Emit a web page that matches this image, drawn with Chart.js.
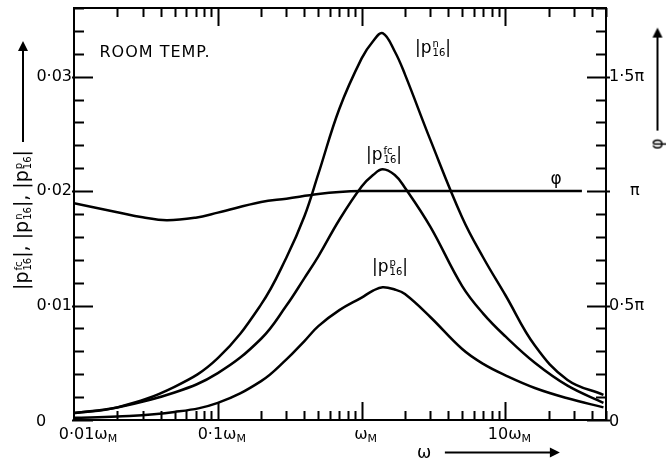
<!DOCTYPE html>
<html>
<head>
<meta charset="UTF-8" />
<title>p16 vs omega</title>
<script src="https://cdn.jsdelivr.net/npm/chart.js"></script>
<style>
  body { margin: 0; background: #fff; }
  #wrap { position: relative; width: 666px; height: 463px; font-family: "DejaVu Sans", sans-serif; color: #000; }
  .lbl { position: absolute; white-space: nowrap; font-size: 17px; line-height: 1; }
  .rot { transform: translate(-50%, -50%) rotate(-90deg); }
  .ctr { transform: translate(-50%, -50%); }
  .st { display: inline-block; vertical-align: -0.3em; font-size: 10px; line-height: 9px; text-align: left; margin-left: 1px; }
  .arrow { display: inline-block; height: 2px; background: #000; position: relative; vertical-align: middle; margin-left: 8px; }
  .arrow::after { content: ""; position: absolute; right: -3px; top: -4px; border-left: 10px solid #000; border-top: 5px solid transparent; border-bottom: 5px solid transparent; }
</style>
</head>
<body>
<div id="wrap">
  <canvas id="chart" width="666" height="463"></canvas>

  <div class="lbl ctr" style="left:155px; top:52px; font-size:16px; letter-spacing:1px">ROOM TEMP.</div>
  <div class="lbl ctr" style="left:433px; top:48px">|p<span class="st">n<br>16</span>|</div>
  <div class="lbl ctr" style="left:384px; top:155px">|p<span class="st">fc<br>16</span>|</div>
  <div class="lbl ctr" style="left:390px; top:267px">|p<span class="st">p<br>16</span>|</div>
  <div class="lbl ctr" style="left:556px; top:178px">φ</div>

  <div class="lbl rot" style="left:22px; top:167px; font-size:19px">|p<span class="st">fc<br>16</span>|, |p<span class="st">n<br>16</span>|, |p<span class="st">p<br>16</span>|<span class="arrow" style="width:98px"></span></div>
  <div class="lbl rot" style="left:657px; top:90px">φ<span class="arrow" style="width:100px"></span></div>
  <div class="lbl ctr" style="left:487px; top:452px">ω<span class="arrow" style="width:112px; margin-left:14px"></span></div>
</div>

<script>
  // values (omega in units of omega_M)
  const omega = [0.01, 0.02, 0.05, 0.1, 0.2, 0.3, 0.4, 0.5, 0.7, 1, 1.2, 1.4, 1.7, 2, 3, 5, 7, 10, 16, 27, 48];
  const pN  = [0.0006, 0.0011, 0.0029, 0.0054, 0.0101, 0.0142, 0.0178, 0.0215, 0.0272, 0.0316, 0.0331, 0.0338, 0.0322, 0.0302, 0.0245, 0.0177, 0.0142, 0.0109, 0.0065, 0.0035, 0.0022];
  const pFc = [0.0006, 0.0011, 0.0024, 0.0041, 0.0071, 0.0100, 0.0124, 0.0143, 0.0175, 0.0204, 0.0214, 0.0219, 0.0214, 0.0203, 0.0169, 0.0117, 0.0093, 0.0073, 0.0050, 0.0030, 0.0015];
  const pP  = [0.0002, 0.0003, 0.0007, 0.0015, 0.0034, 0.0053, 0.0069, 0.0082, 0.0096, 0.0107, 0.0113, 0.0116, 0.0114, 0.0110, 0.0090, 0.0062, 0.0049, 0.0039, 0.0028, 0.0019, 0.0011];

  // phase, in units of pi
  const phiOmega = [0.01, 0.02, 0.03, 0.044, 0.07, 0.1, 0.2, 0.3, 0.5, 0.7, 1, 2, 5, 10, 34];
  const phi = [0.947, 0.908, 0.886, 0.873, 0.884, 0.906, 0.952, 0.967, 0.987, 0.996, 1.0, 1.0, 1.0, 1.0, 1.0];

  // tick labels
  const yTicks = [0, 0.01, 0.02, 0.03];
  const yTickLabels = ["0", "0·01", "0·02", "0·03"];
  const phiTicks = [0, 0.5, 1, 1.5];
  const phiTickLabels = ["0", "0·5π", "π", "1·5π"];
  const xTicks = [0.01, 0.1, 1, 10];
  const xTickLabels = ["0·01ω", "0·1ω", "ω", "10ω"];

  const pts = (xs, ys) => xs.map((v, i) => ({ x: v, y: ys[i] }));

  const line = (data, axis) => ({
    data: data,
    yAxisID: axis,
    borderColor: "#000",
    borderWidth: 2.5,
    pointRadius: 0,
    fill: false,
    tension: 0.4,
  });

  // frame, inward ticks and axis numbers
  const frameTicks = {
    id: "frameTicks",
    afterDatasetsDraw(chart) {
      const { ctx, chartArea: a, scales } = chart;
      const x = scales.x, y = scales.y, y1 = scales.y1;
      ctx.save();
      ctx.strokeStyle = "#000";
      ctx.lineWidth = 2;
      ctx.strokeRect(a.left, a.top, a.right - a.left, a.bottom - a.top);

      ctx.beginPath();
      for (let k = 0; k <= 18; k++) {
        const py = Math.round(y.getPixelForValue(k * 0.002)) + 0.5;
        const len = k % 5 === 0 ? 19 : 10;
        ctx.moveTo(a.left - (k % 5 === 0 ? 2 : 0), py);
        ctx.lineTo(a.left + len, py);
        const qy = Math.round(y1.getPixelForValue(k * 0.1)) + 0.5;
        ctx.moveTo(a.right + (k % 5 === 0 ? 4 : 0), qy);
        ctx.lineTo(a.right - len, qy);
      }
      for (let d = -2; d <= 1; d++) {
        for (let m = 1; m <= 9; m++) {
          const v = m * Math.pow(10, d);
          if (v <= 0.01 || v > 50) continue;
          const px = Math.round(x.getPixelForValue(v)) + 0.5;
          const len = m === 1 ? 18 : 9;
          ctx.moveTo(px, a.bottom);
          ctx.lineTo(px, a.bottom - len);
          ctx.moveTo(px, a.top);
          ctx.lineTo(px, a.top + len);
        }
      }
      ctx.stroke();

      ctx.fillStyle = "#000";
      ctx.font = '16px "DejaVu Sans"';
      ctx.textBaseline = "middle";
      yTicks.forEach((v, i) => {
        const py = y.getPixelForValue(v);
        if (i === 0) {
          ctx.textAlign = "center";
          ctx.fillText(yTickLabels[i], 41, py + 2);
        } else {
          ctx.textAlign = "right";
          ctx.fillText(yTickLabels[i], a.left - 2, py);
        }
      });
      ctx.textAlign = "left";
      phiTicks.forEach((v, i) => {
        const py = y1.getPixelForValue(v);
        const dx = phiTickLabels[i] === "π" ? 24 : 3;
        ctx.fillText(phiTickLabels[i], a.right + dx, py + (i === 0 ? 2 : 0));
      });
      xTicks.forEach((v, i) => {
        const px = x.getPixelForValue(v);
        ctx.font = '16px "DejaVu Sans"';
        const w1 = ctx.measureText(xTickLabels[i]).width;
        ctx.font = '11px "DejaVu Sans"';
        const w2 = ctx.measureText("M").width;
        const cx = px + (i === 0 ? 14 : 4);
        const left = cx - (w1 + w2) / 2;
        ctx.font = '16px "DejaVu Sans"';
        ctx.fillText(xTickLabels[i], left, a.bottom + 15);
        ctx.font = '11px "DejaVu Sans"';
        ctx.fillText("M", left + w1, a.bottom + 19);
      });
      ctx.restore();
    },
  };

  new Chart(document.getElementById("chart"), {
    type: "line",
    data: {
      datasets: [
        line(pts(omega, pN), "y"),
        line(pts(omega, pFc), "y"),
        line(pts(omega, pP), "y"),
        line(pts(phiOmega, phi), "y1"),
      ],
    },
    options: {
      responsive: false,
      animation: false,
      devicePixelRatio: 1,
      layout: { padding: { top: 8, left: 0, right: 0, bottom: 0 } },
      plugins: { legend: { display: false }, tooltip: { enabled: false } },
      scales: {
        x: {
          type: "logarithmic",
          min: 0.01,
          max: 50,
          ticks: { display: false },
          grid: { display: false },
          border: { display: false },
          afterFit: (s) => { s.height = 43; },
        },
        y: {
          min: 0,
          max: 0.036,
          ticks: { display: false },
          grid: { display: false },
          border: { display: false },
          afterFit: (s) => { s.width = 74; },
        },
        y1: {
          position: "right",
          min: 0,
          max: 1.8,
          ticks: { display: false },
          grid: { display: false },
          border: { display: false },
          afterFit: (s) => { s.width = 60; },
        },
      },
    },
    plugins: [frameTicks],
  });
</script>
</body>
</html>
